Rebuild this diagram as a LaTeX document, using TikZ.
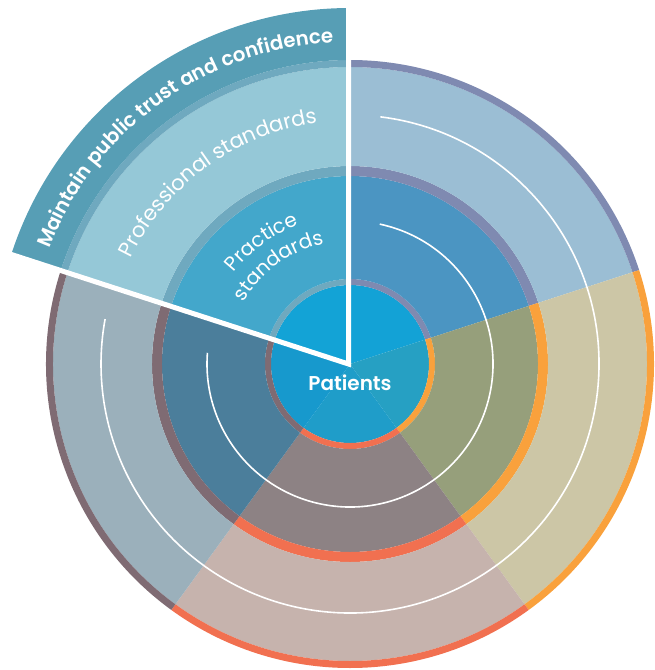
\documentclass[tikz,border=0pt]{standalone}
\usepackage{fontspec}
\setmainfont{Poppins}
\newfontfamily\popsb{Poppins SemiBold}
\usetikzlibrary{decorations.text}
\definecolor{pA}{HTML}{13A2D6}
\definecolor{mA}{HTML}{4B95C2}
\definecolor{oA}{HTML}{9BBED4}
\definecolor{rA}{HTML}{7F8AB1}
\definecolor{pB}{HTML}{26A0C3}
\definecolor{mB}{HTML}{969F7B}
\definecolor{oB}{HTML}{CCC6A6}
\definecolor{rB}{HTML}{F9A13C}
\definecolor{pC}{HTML}{1F9DC9}
\definecolor{mC}{HTML}{8D8284}
\definecolor{oC}{HTML}{C6B3AD}
\definecolor{rC}{HTML}{F17050}
\definecolor{pD}{HTML}{1799CD}
\definecolor{mD}{HTML}{4B7E9B}
\definecolor{oD}{HTML}{9BB0BB}
\definecolor{rD}{HTML}{7F6B73}
\definecolor{pE}{HTML}{13A3D6}
\definecolor{mE}{HTML}{43A7CB}
\definecolor{oE}{HTML}{95C8D7}
\definecolor{rE}{HTML}{6FA9BF}
\definecolor{xE}{HTML}{579EB5}
% ring sector: colour, start angle, end angle, inner r, outer r
\newcommand\rsec[5]{\fill[#1] (#2:#4pt) arc[start angle=#2, end angle=#3, radius=#4pt] -- (#3:#5pt) arc[start angle=#3, end angle=#2, radius=#5pt] -- cycle;}
\newcommand\csec[4]{\fill[#1] (0,0) -- (#2:#4pt) arc[start angle=#2, end angle=#3, radius=#4pt] -- cycle;}
% full sector: letter, start, end
\newcommand\fullsec[3]{%
  \csec{p#1}{#2}{#3}{79}%
  \rsec{r#1}{#2}{#3}{79}{85}%
  \rsec{m#1}{#2}{#3}{85}{188}%
  \rsec{r#1}{#2}{#3}{188}{198}%
  \rsec{o#1}{#2}{#3}{198}{297}%
  \rsec{r#1}{#2}{#3}{297}{304}}
\tikzset{
  whitearc/.style={white, line width=1.6pt},
  gap/.style={white, line width=5pt},
  curvedtext/.style={decorate, decoration={text along path, text align=center, text color=white, text={#1}}}
}
\begin{document}
\begin{tikzpicture}
\useasboundingbox (0,-670pt) rectangle (654pt,0pt);
\begin{scope}[shift={(350pt,-364pt)}]
  \fullsec{A}{18}{90}
  \fullsec{B}{-54}{18}
  \fullsec{C}{-126}{-54}
  \fullsec{D}{-198}{-126}
  % popped-out wedge
  \csec{pE}{90}{162}{79}
  \rsec{rE}{90}{162}{79}{85}
  \rsec{mE}{90}{162}{85}{188}
  \rsec{rE}{90}{162}{188}{198}
  \rsec{oE}{90}{162}{198}{297}
  \rsec{rE}{90}{162}{297}{304}
  \rsec{xE}{90}{162}{304}{356}
  % white guide arcs
  \draw[whitearc] (78:143pt) arc[start angle=78, end angle=-184.5, radius=143pt];
  \draw[whitearc] (83:249pt) arc[start angle=83, end angle=-190.4, radius=249pt];
  % wedge gap lines
  \coordinate (c) at (-1.5pt,0pt);
  \coordinate (t) at ([xshift=-1.5pt]90:364pt);
  \coordinate (l) at ([xshift=-1.5pt]162:364pt);
  \draw[gap, line join=miter] (t) -- (c) -- (l);
  % curved labels
  \path[curvedtext={|\popsb\fontsize{19.8}{20}\selectfont|Maintain public trust and confidence}]
    (162:322pt) arc[start angle=162, end angle=90, radius=322pt];
  \path[curvedtext={|\fontsize{21}{21}\selectfont|Professional standards}]
    (162:243pt) arc[start angle=162, end angle=90, radius=243pt];
  \path[curvedtext={|\fontsize{20}{20}\selectfont|Practice}]
    (162:148pt) arc[start angle=162, end angle=90, radius=148pt];
  \path[curvedtext={|\fontsize{20}{20}\selectfont|standards}]
    (162:123pt) arc[start angle=162, end angle=90, radius=123pt];
  \node[text=white, font=\popsb\fontsize{20}{20}\selectfont] (pat) at (0pt,-19pt) {Patients};
\end{scope}
\end{tikzpicture}
\end{document}
